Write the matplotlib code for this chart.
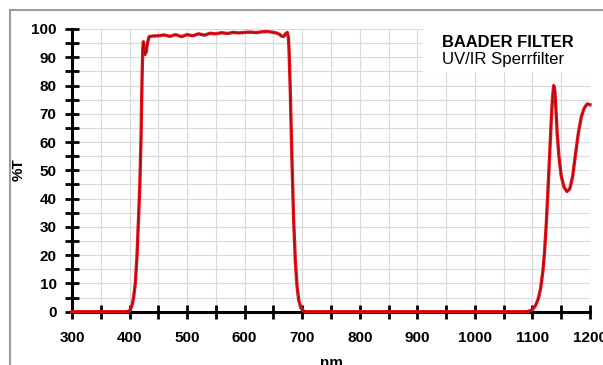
import matplotlib
matplotlib.use("Agg")
import matplotlib.pyplot as plt
from matplotlib.lines import Line2D
from matplotlib.patches import Rectangle
from matplotlib.ticker import MultipleLocator

plt.rcParams['font.family'] = ['Liberation Sans', 'DejaVu Sans']

# Transmission curve of the UV/IR blocking filter (wavelength in nm, %T)
wavelength = [300, 350, 395, 400, 404, 407, 410, 413, 416, 418, 420, 421, 422, 423,
              424, 425, 427, 429, 431, 434, 440, 450, 460, 470, 480, 490, 500, 510,
              520, 530, 540, 550, 560, 570, 580, 590, 600, 610, 620, 630, 640, 650,
              655, 660, 664, 668, 671, 674, 676, 677, 679, 682, 685, 688, 691, 694,
              698, 702, 706, 800, 900, 1000, 1090, 1096, 1100, 1105, 1110, 1114, 1118,
              1121, 1124, 1127, 1130, 1133, 1135, 1137, 1139, 1141, 1143, 1146, 1150,
              1155, 1160, 1165, 1170, 1175, 1180, 1185, 1190, 1195, 1200]
transmission = [0, 0, 0, 0.3, 2, 5, 10, 20, 35, 46, 62, 75, 85, 93,
                95.5, 93, 91, 92, 95, 97.3, 97.5, 97.6, 97.9, 97.4, 98.0, 97.3, 98.0, 97.6,
                98.3, 97.8, 98.5, 98.3, 98.7, 98.4, 98.8, 98.6, 98.8, 98.9, 98.7, 99.0, 99.1, 98.8,
                98.6, 98.2, 97.5, 97.4, 98.3, 98.8, 97.0, 93, 80, 55, 33, 18, 9, 4,
                1.2, 0.3, 0, 0, 0, 0, 0, 0.3, 0.8, 2, 4.5, 8, 14,
                21, 31, 43, 56, 69, 76, 80, 78, 71, 63, 55, 48,
                44, 42.5, 43.5, 48, 56, 63.5, 69, 72, 73.5, 73.2]

x_major = list(range(300, 1201, 100))
y_major = list(range(0, 101, 10))

W, H = 603, 365
fig = plt.figure(figsize=(W / 100, H / 100), dpi=100)
fig.patch.set_facecolor('white')

x0, x1, y0, y1 = 72, 590, 311.7, 29
ax = fig.add_axes([x0 / W, 1 - y0 / H, (x1 - x0) / W, (y0 - y1) / H])
ax.set_xlim(300, 1200)
ax.set_ylim(0, 100)

for side in ('top', 'right'):
    ax.spines[side].set_visible(False)
for side in ('left', 'bottom'):
    ax.spines[side].set_linewidth(2.2)
    ax.spines[side].set_color('black')

ax.xaxis.set_major_locator(MultipleLocator(100))
ax.xaxis.set_minor_locator(MultipleLocator(50))
ax.yaxis.set_major_locator(MultipleLocator(10))
ax.yaxis.set_minor_locator(MultipleLocator(5))
ax.set_xticks(x_major)
ax.set_yticks(y_major)

ax.tick_params(which='both', direction='inout', length=10, width=2, color='black')
ax.tick_params(axis='x', which='major', pad=9, labelsize=11)
ax.tick_params(axis='y', which='major', pad=6, labelsize=11)
for lbl in ax.get_xticklabels() + ax.get_yticklabels():
    lbl.set_fontweight('bold')

ax.set_axisbelow(True)
ax.grid(True, which='both', color='#dadada', linewidth=0.8)

# white panel behind the title block
ax.add_patch(Rectangle((910, 84.8), 290, 15.2, facecolor='white', edgecolor='none', zorder=1))

ax.plot(wavelength, transmission, color='#e8121c', linewidth=2.4, zorder=4,
        clip_on=False, solid_joinstyle='round')
ax.plot(wavelength, transmission, color='#5a0505', linewidth=0.7, alpha=0.55, zorder=5,
        clip_on=False, solid_joinstyle='round')

fig.text(442 / W, 1 - 47 / H, 'BAADER FILTER', fontsize=11.9, fontweight='bold',
         ha='left', va='baseline')
fig.text(442 / W, 1 - 64 / H, 'UV/IR Sperrfilter', fontsize=12.1,
         ha='left', va='baseline')

fig.text(18.5 / W, 1 - 170 / H, '%T', rotation=90, fontsize=11, fontweight='bold',
         ha='center', va='center')
fig.text(331 / W, 1 - 356 / H, 'nm', fontsize=11, fontweight='bold',
         ha='center', va='top')

# thin grey frame along the top and left edges
fig.add_artist(Line2D([10 / W, 1], [1 - 10 / H, 1 - 10 / H], color='#9c9c9c', linewidth=1.5))
fig.add_artist(Line2D([10 / W, 10 / W], [0, 1 - 10 / H], color='#9c9c9c', linewidth=1.5))

fig.savefig('out.png', dpi=100)
